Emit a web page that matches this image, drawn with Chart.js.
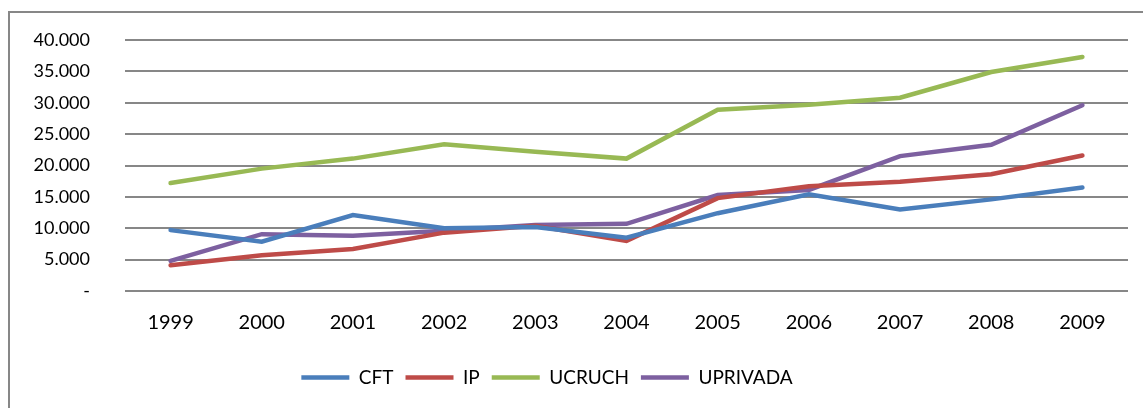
<!DOCTYPE html>
<html>
<head>
<meta charset="utf-8">
<script src="https://cdn.jsdelivr.net/npm/chart.js@4"></script>
<style>
  body { margin: 0; background: #fff; }
  #wrap { position: relative; width: 1143px; height: 408px; }
  #frame { position: absolute; left: 8px; top: 11px; width: 1135px; height: 397px;
           border-left: 2px solid #878787; border-top: 2px solid #878787; box-sizing: border-box; }
  canvas { position: absolute; left: 0; top: 0; }
</style>
</head>
<body>
<div id="wrap">
  <div id="frame"></div>
  <canvas id="chart1" width="1143" height="408"></canvas>
</div>
<script>
// years on the x axis
var years = ['1999', '2000', '2001', '2002', '2003', '2004', '2005', '2006', '2007', '2008', '2009'];

// series
var cft      = [9700, 7850, 12100, 10000, 10200, 8500, 12400, 15400, 13000, 14600, 16500];
var ip       = [4100, 5700, 6700, 9300, 10400, 8000, 14800, 16700, 17400, 18600, 21600];
var ucruch   = [17200, 19500, 21100, 23400, 22200, 21100, 28900, 29700, 30800, 34900, 37300];
var uprivada = [4800, 9050, 8800, 9600, 10500, 10700, 15300, 16100, 21500, 23300, 29600];

var yMax = 40000;
var yStep = 5000;

var fontName = 'Lato, "Liberation Sans", sans-serif';

function line(label, data, color) {
    return {
        label: label,
        data: data,
        borderColor: color,
        backgroundColor: color,
        borderWidth: 4.5,
        borderCapStyle: 'round',
        borderJoinStyle: 'miter',
        pointRadius: 0,
        pointHoverRadius: 0,
        tension: 0,
        fill: false
    };
}

// legend in the original sits a bit left of centre
var legendShift = {
    id: 'legendShift',
    afterLayout: function (chart) {
        chart.legend.left -= 27;
        chart.legend.right -= 27;
    }
};

var ctx1 = document.getElementById('chart1').getContext('2d');
var chart1 = new Chart(ctx1, {
    type: 'line',
    data: {
        labels: years,
        datasets: [
            line('CFT', cft, '#4A7EBB'),
            line('IP', ip, '#BE4B48'),
            line('UCRUCH', ucruch, '#98B954'),
            line('UPRIVADA', uprivada, '#7D60A0')
        ]
    },
    plugins: [legendShift],
    options: {
        responsive: false,
        animation: false,
        layout: { padding: { left: 20, right: 15, top: 40, bottom: 11 } },
        plugins: {
            tooltip: { enabled: false },
            legend: {
                position: 'bottom',
                labels: {
                    usePointStyle: true,
                    pointStyle: 'line',
                    pointStyleWidth: 48,
                    padding: 12,
                    color: '#000',
                    font: { family: fontName, size: 19 }
                }
            }
        },
        scales: {
            x: {
                offset: true,
                grid: { display: false, drawTicks: false },
                border: { display: false },
                ticks: {
                    padding: 20,
                    color: '#000',
                    maxRotation: 0,
                    font: { family: fontName, size: 20 }
                },
                afterFit: function (scale) { scale.height = 65; }
            },
            y: {
                min: 0,
                max: yMax,
                grid: { color: '#878787', lineWidth: 2, drawTicks: false },
                border: { display: false },
                ticks: {
                    stepSize: yStep,
                    padding: 35,
                    color: '#000',
                    font: { family: fontName, size: 18 },
                    callback: function (v) {
                        if (v === 0) return '-';
                        return String(v).replace(/\B(?=(\d{3})+(?!\d))/g, '.');
                    }
                },
                afterFit: function (scale) {
                    scale.width = 105;
                    // tick padding is only meant sideways here
                    scale.paddingTop = 0;
                    scale.paddingBottom = 0;
                }
            }
        }
    }
});
</script>
</body>
</html>
